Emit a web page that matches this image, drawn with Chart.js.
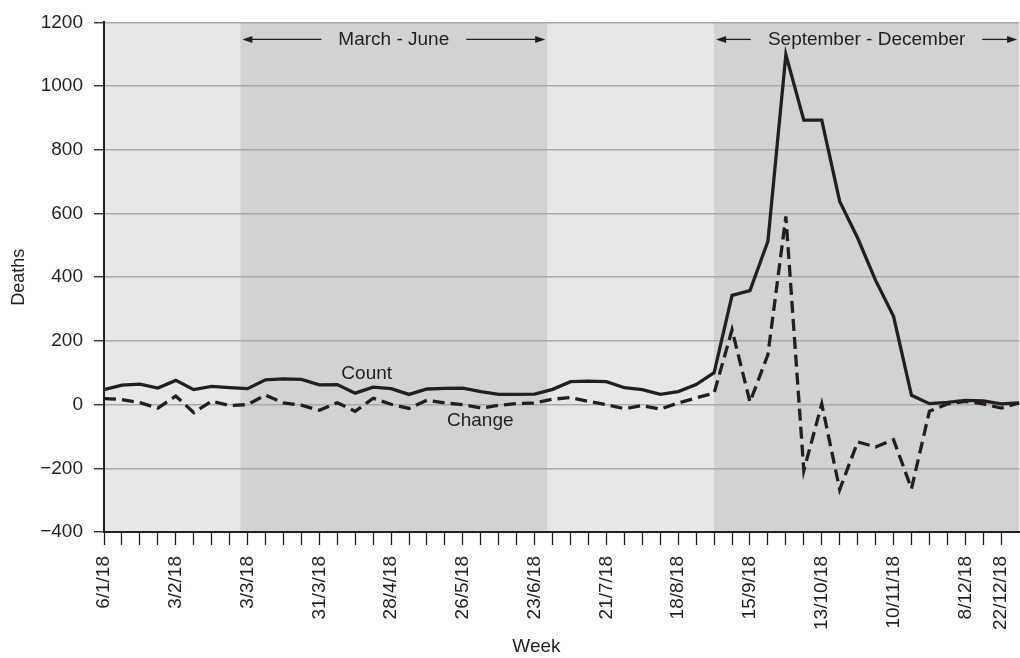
<!DOCTYPE html>
<html>
<head>
<meta charset="utf-8">
<script src="https://cdn.jsdelivr.net/npm/chart.js@4.4.0/dist/chart.umd.min.js"></script>
<style>
    html, body { margin: 0; padding: 0; background: #fff; overflow: hidden; }
    /* the original plot runs off the right edge, so the canvas is a bit wider than the window */
    #wrap { width: 1035px; height: 658px; }
</style>
</head>
<body>
<div id="wrap"><canvas id="deathsChart"></canvas></div>
<script>
// week starting dates, 2018
const weeks = [
    '6/1/18', '13/1/18', '20/1/18', '27/1/18', '3/2/18', '10/2/18', '17/2/18', '24/2/18',
    '3/3/18', '10/3/18', '17/3/18', '24/3/18', '31/3/18', '7/4/18', '14/4/18', '21/4/18',
    '28/4/18', '5/5/18', '12/5/18', '19/5/18', '26/5/18', '2/6/18', '9/6/18', '16/6/18',
    '23/6/18', '30/6/18', '7/7/18', '14/7/18', '21/7/18', '28/7/18', '4/8/18', '11/8/18',
    '18/8/18', '25/8/18', '1/9/18', '8/9/18', '15/9/18', '22/9/18', '29/9/18', '6/10/18',
    '13/10/18', '20/10/18', '27/10/18', '3/11/18', '10/11/18', '17/11/18', '24/11/18', '1/12/18',
    '8/12/18', '15/12/18', '22/12/18', '29/12/18'
];
const shownWeeks = ['6/1/18', '3/2/18', '3/3/18', '31/3/18', '28/4/18', '26/5/18', '23/6/18',
    '21/7/18', '18/8/18', '15/9/18', '13/10/18', '10/11/18', '8/12/18', '22/12/18'];

const countValues = [
    47, 61, 64, 52, 76, 47, 57, 53, 50, 78, 81, 79, 62, 63, 36, 55,
    50, 32, 49, 51, 52, 41, 32, 32, 33, 48, 72, 74, 72, 53, 47, 32,
    41, 63, 100, 343, 358, 513, 1099, 893, 893, 638, 523, 390, 277, 29,
    3, 7, 13, 12, 2, 5
];
const changeValues = [
    19, 16, 6, -11, 27, -25, 11, -3, 0, 30, 5, -2, -18, 6, -21, 20,
    1, -12, 14, 5, 0, -11, -2, 3, 5, 17, 22, 10, 0, -13, -3, -14,
    5, 21, 36, 235, 8, 157, 591, -207, 2, -267, -117, -133, -110, -264,
    -21, 2, 10, 2, -11, 5
];

// shaded periods, in week index
const periodNames = ['March - June', 'September - December'];
const periodFrom = [7.6, 34];
const periodTo = [24.7, 51];

const INK = '#231f20';
const FONT = '"Liberation Sans", Arial, Helvetica, sans-serif';
const FONT_SIZE = 19;
const VIEW_RIGHT = 1020; // visible width of the page

function arrow(ctx, from, to, y) {
    const dir = to > from ? 1 : -1;
    ctx.beginPath();
    ctx.moveTo(from, y);
    ctx.lineTo(to - dir * 8, y);
    ctx.stroke();
    ctx.beginPath();
    ctx.moveTo(to, y);
    ctx.lineTo(to - dir * 10, y - 3.5);
    ctx.lineTo(to - dir * 10, y + 3.5);
    ctx.closePath();
    ctx.fill();
}

const shading = {
    id: 'shading',
    beforeDraw(chart) {
        const {ctx, chartArea, scales: {x}} = chart;
        ctx.save();
        ctx.fillStyle = '#e6e7e9';
        ctx.fillRect(chartArea.left, chartArea.top, chartArea.width, chartArea.height);
        ctx.fillStyle = '#d1d2d4';
        periodFrom.forEach((from, i) => {
            const x0 = x.getPixelForValue(from);
            const x1 = Math.min(x.getPixelForValue(periodTo[i]), chartArea.right);
            ctx.fillRect(x0, chartArea.top, x1 - x0, chartArea.height);
        });
        ctx.restore();
    }
};

const notes = {
    id: 'notes',
    afterDraw(chart) {
        const {ctx, chartArea, scales: {x, y}} = chart;
        const right = Math.min(chartArea.right, VIEW_RIGHT);
        ctx.save();
        ctx.font = FONT_SIZE + 'px ' + FONT;
        ctx.fillStyle = INK;
        ctx.strokeStyle = INK;
        ctx.lineWidth = 1.3;
        ctx.textAlign = 'center';
        ctx.textBaseline = 'middle';

        const ty = chartArea.top + 17;
        periodNames.forEach((name, i) => {
            const x0 = x.getPixelForValue(periodFrom[i]) + 2;
            const x1 = Math.min(x.getPixelForValue(periodTo[i]), right) - 2;
            const cx = (x0 + x1) / 2;
            const half = ctx.measureText(name).width / 2 + 17;
            ctx.fillText(name, cx, ty);
            arrow(ctx, cx - half, x0, ty);
            arrow(ctx, cx + half, x1, ty);
        });

        // series labels next to the lines
        ctx.fillText(chart.data.datasets[0].label, x.getPixelForValue(14.64), y.getPixelForValue(98));
        ctx.fillText(chart.data.datasets[1].label, x.getPixelForValue(20.97), y.getPixelForValue(-52));

        // x axis title
        ctx.fillText('Week', x.getPixelForValue(24.1), chart.height - 11);
        ctx.restore();
    }
};

const ctx = document.getElementById('deathsChart').getContext('2d');
new Chart(ctx, {
    type: 'line',
    data: {
        labels: weeks,
        datasets: [
            {
                label: 'Count',
                data: countValues,
                borderColor: INK,
                borderWidth: 3.3,
                pointRadius: 0,
                fill: false
            },
            {
                label: 'Change',
                data: changeValues,
                borderColor: INK,
                borderWidth: 3.3,
                borderDash: [12, 6],
                pointRadius: 0,
                fill: false
            }
        ]
    },
    options: {
        responsive: true,
        maintainAspectRatio: false,
        animation: false,
        layout: {padding: {top: 21, right: 0, bottom: 0, left: 0}},
        plugins: {
            legend: {display: false},
            tooltip: {enabled: false}
        },
        scales: {
            x: {
                offset: false,
                afterFit: scale => { scale.height = 126; },
                grid: {
                    drawOnChartArea: false,
                    drawTicks: true,
                    tickLength: 13,
                    tickColor: INK,
                    tickWidth: 1.3
                },
                border: {color: INK, width: 2},
                ticks: {
                    autoSkip: false,
                    minRotation: 90,
                    maxRotation: 90,
                    padding: 11,
                    color: INK,
                    font: {family: FONT, size: FONT_SIZE},
                    callback: function (value, index) {
                        if (index === weeks.length - 1) return null;
                        const lbl = weeks[index];
                        return shownWeeks.includes(lbl) ? lbl : '';
                    }
                }
            },
            y: {
                min: -400,
                max: 1200,
                afterFit: scale => { scale.width = 104; },
                grid: {
                    color: c => c.tick && c.tick.value === -400 ? 'rgba(0,0,0,0)' : '#a9aaac',
                    lineWidth: 1.5,
                    tickLength: 10,
                    tickColor: INK,
                    tickWidth: 1.3
                },
                border: {color: INK, width: 2},
                ticks: {
                    stepSize: 200,
                    padding: 11,
                    color: INK,
                    font: {family: FONT, size: FONT_SIZE},
                    callback: v => v < 0 ? '\u2212' + Math.abs(v) : String(v)
                },
                title: {
                    display: true,
                    text: 'Deaths',
                    color: INK,
                    font: {family: FONT, size: FONT_SIZE - 1},
                    padding: {top: 8, bottom: 0}
                }
            }
        }
    },
    plugins: [shading, notes]
});
</script>
</body>
</html>
